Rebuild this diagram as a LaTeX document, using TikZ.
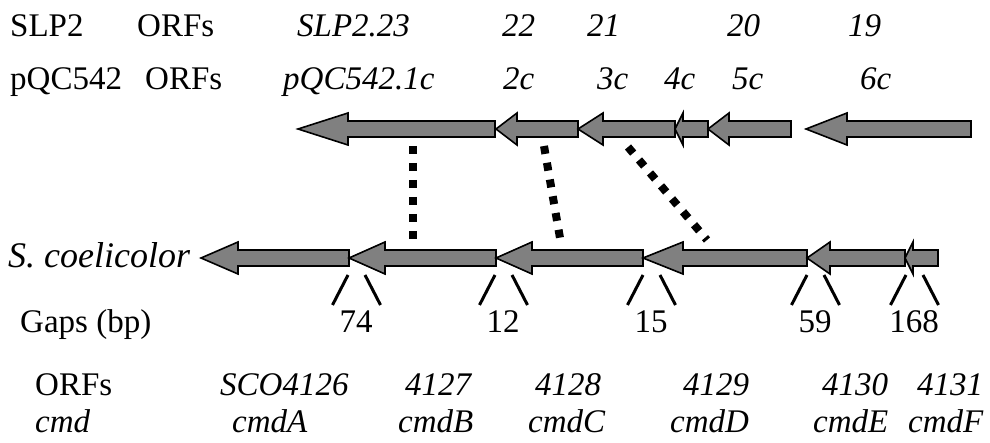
\documentclass[tikz,border=0pt]{standalone}
\usepackage{fontspec}
\setmainfont{Liberation Serif}
\definecolor{genegray}{HTML}{808080}
% gene arrow pointing left: name, tip x, head base x, tail x, centre y
\newcommand\genearrow[5]{%
  \draw[gene] (#2,#5) -- (#3,#5-16) -- (#3,#5-8) -- (#4,#5-8)
    -- (#4,#5+8) -- (#3,#5+8) -- (#3,#5+16) -- cycle;
  \coordinate (#1-tip) at (#2,#5);
  \coordinate (#1-tail) at (#4,#5);}
% pair of gap ticks below a gene junction: name, junction x, label
\newcommand\gapmark[3]{%
  \coordinate (#1-a) at (#2,275);
  \coordinate (#1-b) at (#2+17,275);
  \draw[tick] (#1-a) -- ++(-15.5,30);
  \draw[tick] (#1-b) -- ++(15.5,30);
  \node[num] (#1-n) at (#2+8,333) {#3};}
\begin{document}
\begin{tikzpicture}[x=1pt,y=-1pt,
  lbl/.style={anchor=base west,inner sep=0pt,font=\fontsize{33}{40}\selectfont},
  ilbl/.style={anchor=base west,inner sep=0pt,font=\fontsize{33}{40}\selectfont\itshape},
  num/.style={anchor=base,inner sep=0pt,font=\fontsize{33}{40}\selectfont},
  gene/.style={fill=genegray,draw=black,line width=1.6pt,line join=miter},
  link/.style={line width=8pt,dash pattern=on 8pt off 9pt},
  tick/.style={line width=3pt}]
\useasboundingbox (0,0) rectangle (990,443);

% header labels
\node[lbl]  (h1)  at (10,37)  {SLP2};
\node[lbl]  (h2)  at (137,37) {ORFs};
\node[ilbl] (s23) at (297,37) {SLP2.23};
\node[ilbl] (s22) at (502,37) {22};
\node[ilbl] (s21) at (587,37) {21};
\node[ilbl] (s20) at (727,37) {20};
\node[ilbl] (s19) at (848,37) {19};

\node[lbl]  (h3) at (10,90)  {pQC542};
\node[lbl]  (h4) at (145,90) {ORFs};
\node[ilbl] (p1) at (283,90) {pQC542.1c};
\node[ilbl] (p2) at (503,90) {2c};
\node[ilbl] (p3) at (597,90) {3c};
\node[ilbl] (p4) at (664,90) {4c};
\node[ilbl] (p5) at (732,90) {5c};
\node[ilbl] (p6) at (860,90) {6c};

% pQC542 genes
\genearrow{a1}{298}{348}{495}{129}
\genearrow{a2}{496}{517}{578}{129}
\genearrow{a3}{578}{603}{675}{129}
\genearrow{a4}{675}{683}{708}{129}
\genearrow{a5}{708}{729}{791}{129}
\genearrow{a6}{806}{847}{971}{129}

% S. coelicolor genes
\node[ilbl,font=\fontsize{36}{42}\selectfont\itshape] (sc) at (8,268) {S. coelicolor};
\genearrow{b1}{201}{238}{349}{258}
\genearrow{b2}{349}{385}{496}{258}
\genearrow{b3}{496}{532}{643}{258}
\genearrow{b4}{643}{683}{807}{258}
\genearrow{b5}{807}{830}{905}{258}
\genearrow{b6}{905}{913}{938}{258}

% homology links
\coordinate (l1a) at (413,146); \coordinate (l1b) at (413,240);
\coordinate (l2a) at (544,146); \coordinate (l2b) at (560,238);
\coordinate (l3a) at (628,147); \coordinate (l3b) at (707,240);
\draw[link] (l1a) -- (l1b);
\draw[link] (l2a) -- (l2b);
\draw[link] (l3a) -- (l3b);

% intergenic gaps
\node[lbl] (gp) at (20,333) {Gaps (bp)};
\gapmark{g1}{348}{74}
\gapmark{g2}{495}{12}
\gapmark{g3}{643}{15}
\gapmark{g4}{807}{59}
\gapmark{g5}{906}{168}

% ORF names
\node[lbl]  (o0) at (35,395)  {ORFs};
\node[ilbl] (o1) at (220,395) {SCO4126};
\node[ilbl] (o2) at (405,395) {4127};
\node[ilbl] (o3) at (535,395) {4128};
\node[ilbl] (o4) at (683,395) {4129};
\node[ilbl] (o5) at (822,395) {4130};
\node[ilbl] (o6) at (917,395) {4131};

\node[ilbl] (c0) at (35,432)  {cmd};
\node[ilbl] (c1) at (232,432) {cmdA};
\node[ilbl] (c2) at (398,432) {cmdB};
\node[ilbl] (c3) at (528,432) {cmdC};
\node[ilbl] (c4) at (670,432) {cmdD};
\node[ilbl] (c5) at (813,432) {cmdE};
\node[ilbl] (c6) at (908,432) {cmdF};
\end{tikzpicture}
\end{document}
